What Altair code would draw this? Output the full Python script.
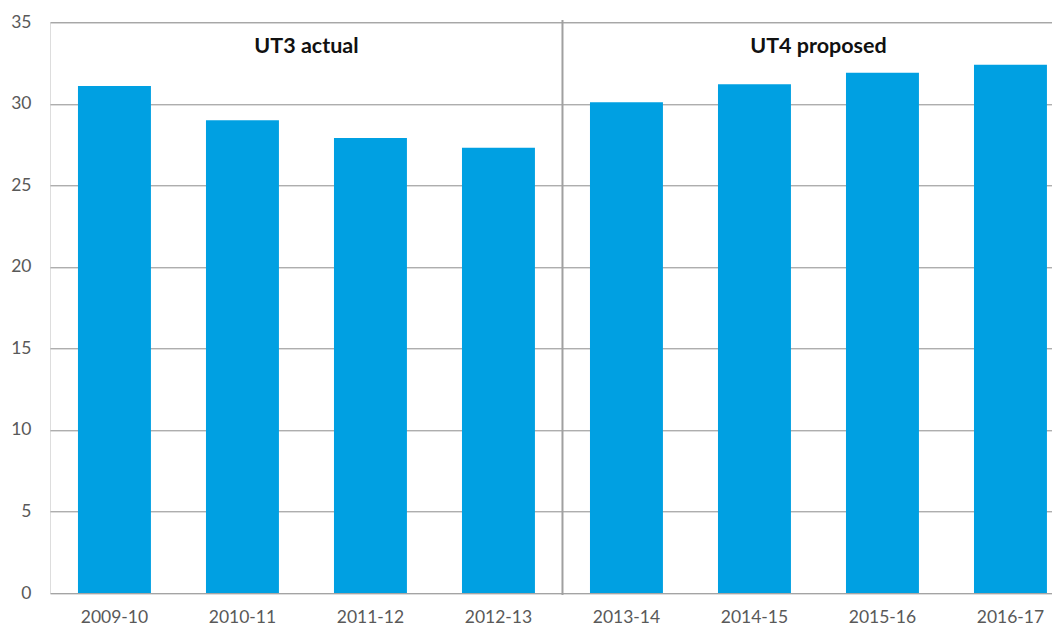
import altair as alt
import pandas as pd

years = ["2009-10", "2010-11", "2011-12", "2012-13",
         "2013-14", "2014-15", "2015-16", "2016-17"]
values = [31.1, 29.0, 27.9, 27.3, 30.1, 31.2, 31.9, 32.4]
group_labels = ["UT3 actual", "UT4 proposed"]
group_anchor = ["2010-11", "2014-15"]
label_y = [33.5, 33.5]
y_ticks = [0, 5, 10, 15, 20, 25, 30, 35]

PLOT_W = 1002
PLOT_H = 570.7
BAR_COLOR = "#00A0E2"
GRID_COLOR = "#8C8C8C"
FONT = "Lato"
HALF_GAP = 27.5

df = pd.DataFrame({"year": years, "value": values})
lab = pd.DataFrame({"label": group_labels, "year": group_anchor, "y": label_y})
div = pd.DataFrame({"year": ["2013-14"]})

xscale = alt.Scale(domain=years, paddingInner=0.43, paddingOuter=0.129, align=0.847)
yscale = alt.Scale(domain=[0, 35], nice=False, zero=True)

bars = alt.Chart(df).mark_bar(color=BAR_COLOR).encode(
    x=alt.X("year:N", scale=xscale, sort=years,
            axis=alt.Axis(title=None, labelAngle=0, ticks=False, domain=False,
                          labelPadding=15, labelFontSize=17.5, labelColor="#595959",
                          labelFont=FONT, grid=False)),
    y=alt.Y("value:Q", scale=yscale,
            axis=alt.Axis(title=None, values=y_ticks, ticks=False, domain=False,
                          labelPadding=19, labelFontSize=17.5, labelColor="#595959",
                          labelFont=FONT, grid=True, gridColor=GRID_COLOR,
                          gridWidth=1, gridOpacity=1)),
)

divider = alt.Chart(div).mark_rule(color="#A0A0A0", strokeWidth=2).encode(
    x=alt.X("year:N", scale=xscale, sort=years),
    xOffset=alt.value(-HALF_GAP),
    y=alt.value(-2.3),
    y2=alt.value(PLOT_H + 2),
)

texts = alt.Chart(lab).mark_text(
    font=FONT, fontSize=21.5, fontWeight="bold", color="#111111",
    baseline="middle", align="center", dx=HALF_GAP
).encode(
    x=alt.X("year:N", scale=xscale, sort=years, bandPosition=1),
    y=alt.Y("y:Q", scale=yscale),
    text="label:N",
)

chart = alt.layer(bars, divider, texts).properties(
    width=PLOT_W, height=PLOT_H,
    autosize=alt.AutoSizeParams(type="none"),
    padding={"left": 42, "top": 14.3, "right": 0, "bottom": 40},
).configure_view(stroke=None).configure(background="white")

chart.save("out.html", embed_options={"renderer": "svg", "actions": False})
